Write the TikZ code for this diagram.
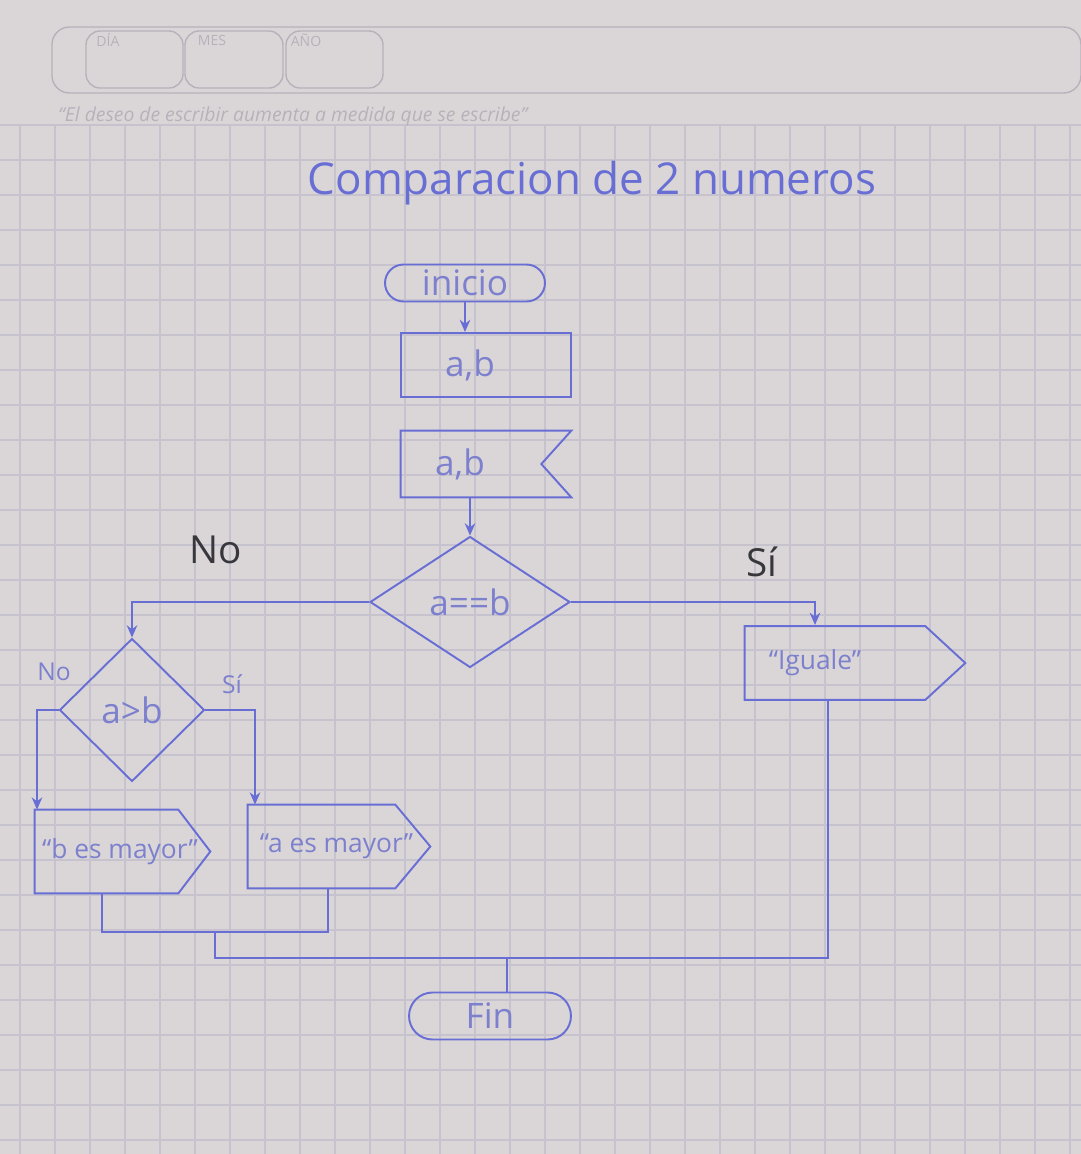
\documentclass[tikz,border=0pt]{standalone}
\usepackage{fontspec}
\setmainfont{Open Sans}
\usetikzlibrary{shapes.geometric,shapes.misc,arrows.meta}
\definecolor{paper}{RGB}{218,214,216}
\definecolor{gridc}{RGB}{198,195,206}
\definecolor{ink}{RGB}{104,110,212}
\definecolor{pencil}{RGB}{125,128,205}
\definecolor{dark}{RGB}{55,55,60}
\definecolor{faint}{RGB}{182,178,186}
\tikzset{
  ln/.style={draw=ink, line width=1.1pt},
  arr/.style={ln, -{Stealth[length=7pt,width=6pt]}},
  lbl/.style={text=pencil, font=\fontsize{20}{24}\selectfont},
  terminal/.style={rounded rectangle, ln, lbl, inner sep=0pt},
  databox/.style={rectangle, ln, lbl, inner sep=0pt},
  decision/.style={diamond, ln, lbl, inner sep=0pt},
  outnode/.style={rectangle, draw=none, text=pencil, font=\fontsize{15}{18}\selectfont, inner sep=0pt},
  branch/.style={text=dark, font=\fontsize{22}{26}\selectfont},
  smallbranch/.style={text=pencil, font=\fontsize{14}{16}\selectfont},
}
\begin{document}
\begin{tikzpicture}[x=0.02cm,y=-0.02cm]
% paper
\fill[paper] (0,0) rectangle (1081,1154);
\useasboundingbox (0,0) rectangle (1081,1154);
% grid
\foreach \gx in {20,55,...,1081} \draw[gridc, line width=0.6pt] (\gx,125) -- (\gx,1154);
\foreach \gy in {125,160,...,1154} \draw[gridc, line width=0.6pt] (0,\gy) -- (1081,\gy);
% header of the sheet
\draw[faint, line width=0.8pt, rounded corners=10pt] (52,27) rectangle (1081,93);
\draw[faint, line width=0.8pt, rounded corners=8pt] (86,31) rectangle (183,88);
\draw[faint, line width=0.8pt, rounded corners=8pt] (185,31) rectangle (283,88);
\draw[faint, line width=0.8pt, rounded corners=8pt] (286,31) rectangle (383,88);
\node[text=faint, font=\fontsize{8}{9}\selectfont] (hdia) at (108,40) {DÍA};
\node[text=faint, font=\fontsize{8}{9}\selectfont] (hmes) at (212,40) {MES};
\node[text=faint, font=\fontsize{8}{9}\selectfont] (hano) at (306,40) {AÑO};
\node[text=faint, font=\itshape\fontsize{11}{13}\selectfont, anchor=west] (quote) at (52,116) {“El deseo de escribir aumenta a medida que se escribe”};

% title
\node[text=ink, font=\fontsize{25}{30}\selectfont] (title) at (592,183) {Comparacion de 2 numeros};

% main column
\node[terminal, minimum width=3.2cm, minimum height=0.74cm] (ini) at (465,283) {inicio};
\node[databox, minimum width=3.4cm, minimum height=1.28cm] (in1) at (486,365) {\hspace*{-0.64cm}a,b};
\node[draw=none, lbl, minimum width=3.4cm, minimum height=1.32cm, inner sep=0pt] (in2) at (486,464) {\hspace*{-1.04cm}a,b};
\draw[ln] (in2.north west) -- (in2.north east) -- ([xshift=-0.6cm]in2.east) -- (in2.south east) -- (in2.south west) -- cycle;
\node[decision, minimum width=4cm, minimum height=2.62cm] (d1) at (470,602) {a==b};

% left decision
\node[decision, minimum width=2.9cm, minimum height=2.86cm] (d2) at (132,710) {a>b};

% outputs (screen output shape: box with pointed right end)
\node[outnode, minimum width=4.4cm, minimum height=1.46cm] (ig) at (855,663) {\hspace*{-1.6cm}“Iguale”};
\draw[ln] (ig.north west) -- ([xshift=-0.8cm]ig.north east) -- (ig.east) -- ([xshift=-0.8cm]ig.south east) -- (ig.south west) -- cycle;
\node[outnode, minimum width=3.5cm, minimum height=1.66cm] (ob) at (122.5,851.5) {\hspace*{-0.1cm}“b es mayor”};
\draw[ln] (ob.north west) -- ([xshift=-0.64cm]ob.north east) -- (ob.east) -- ([xshift=-0.64cm]ob.south east) -- (ob.south west) -- cycle;
\node[outnode, minimum width=3.64cm, minimum height=1.66cm] (oa) at (339,846.5) {\hspace*{-0.1cm}“a es mayor”};
\draw[ln] (oa.north west) -- ([xshift=-0.7cm]oa.north east) -- (oa.east) -- ([xshift=-0.7cm]oa.south east) -- (oa.south west) -- cycle;

% end
\node[terminal, minimum width=3.24cm, minimum height=0.94cm] (fin) at (490,1016) {Fin};

% connectors
\draw[arr] (ini.south) -- (ini.south |- in1.north);
\draw[arr] (d1.north |- in2.south) -- (d1.north);
\draw[arr] (d1.west) -| (d2.north);
\coordinate (igtop) at (815,625);
\draw[arr] (d1.east) -| (igtop);
\coordinate (bl) at (37,710);
\draw[arr] (d2.west) -- (bl) -- (bl |- ob.north);
\coordinate (br) at (255,710);
\draw[arr] (d2.east) -- (br) -- (br |- oa.north);

% merges
\coordinate (m1) at (102,932);
\coordinate (m2) at (328,932);
\coordinate (m3) at (215,932);
\coordinate (m4) at (215,958);
\coordinate (m5) at (828,958);
\coordinate (m6) at (507,958);
\draw[ln] (ob.south -| m1) -- (m1) -- (m2) -- (oa.south -| m2);
\draw[ln] (m3) -- (m4) -- (m5) -- (ig.south -| m5);
\draw[ln] (m6) -- (fin.north -| m6);

% branch labels
\node[branch] (lno) at (216,550) {No};
\node[branch] (lsi) at (762,562) {Sí};
\node[smallbranch] (lno2) at (54,672) {No};
\node[smallbranch] (lsi2) at (232,684) {Sí};
\end{tikzpicture}
\end{document}
